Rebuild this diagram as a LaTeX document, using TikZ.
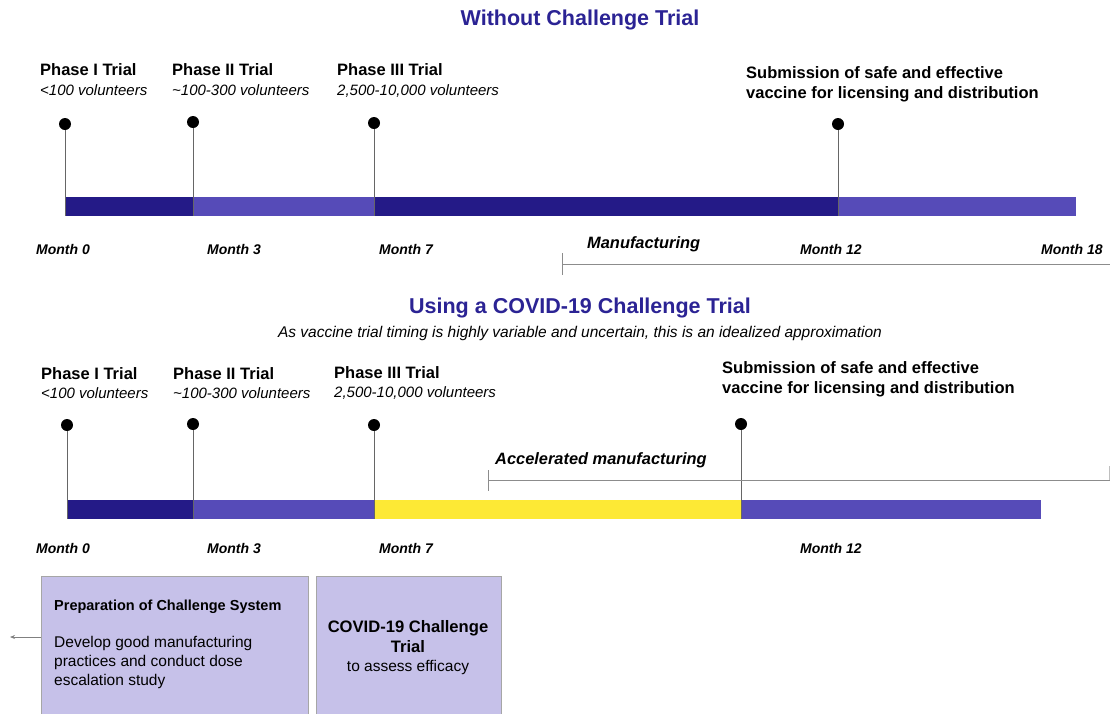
\documentclass[tikz,border=0pt]{standalone}
\usepackage{fontspec}
\setmainfont{Liberation Sans}
\usepackage{tikz}
\usetikzlibrary{positioning,calc,arrows.meta}

\definecolor{navy}{HTML}{241A87}
\definecolor{violet}{HTML}{564BB8}
\definecolor{sun}{HTML}{FDE935}
\definecolor{lilac}{HTML}{C6C1E9}
\definecolor{headblue}{HTML}{2B2394}

\begin{document}
\begin{tikzpicture}[x=1pt,y=-1pt]
  \tikzstyle{pin}=[circle,fill=black,minimum width=10pt,minimum height=12pt,inner sep=0pt]
  \tikzstyle{stem}=[draw=black!60,line width=1pt]
  \tikzstyle{rule}=[draw=black!45,line width=1pt]
  \tikzstyle{head}=[font=\fontsize{21.5}{24}\selectfont\bfseries,text=headblue]
  \tikzstyle{phase}=[anchor=base west,inner sep=0pt,font=\fontsize{16.5}{20.5}\selectfont\bfseries]
  \tikzstyle{crowd}=[anchor=base west,inner sep=0pt,font=\fontsize{15}{17}\selectfont\itshape]
  \tikzstyle{month}=[anchor=base west,inner sep=0pt,font=\fontsize{14}{16}\selectfont\bfseries\itshape]
  \tikzstyle{works}=[anchor=base west,inner sep=0pt,font=\fontsize{16.4}{18}\selectfont\bfseries\itshape]
  \tikzstyle{card}=[draw=black!35,fill=lilac,anchor=north west,inner sep=0pt]
  \useasboundingbox (0,0) rectangle (1110,713);

  % without challenge trial
  \node[head] (top) at (580,20) {Without Challenge Trial};

  \node[phase] (a1) at (40,75) {Phase I Trial};
  \node[crowd] (a1v) at (40,95) {<100 volunteers};
  \node[phase] (a2) at (172,75) {Phase II Trial};
  \node[crowd] (a2v) at (172,95) {\textasciitilde100-300 volunteers};
  \node[phase] (a3) at (337,75) {Phase III Trial};
  \node[crowd] (a3v) at (337,95) {2,500-10,000 volunteers};
  \node[phase,align=left] (a4) at (746,98.5) {Submission of safe and effective\\vaccine for licensing and distribution};

  \node[pin] (ap1) at (65,124) {};
  \node[pin] (ap2) at (193,122) {};
  \node[pin] (ap3) at (374,123) {};
  \node[pin] (ap4) at (838,124) {};

  \fill[navy] (65,197) rectangle (193,216);
  \fill[violet] (193,197) rectangle (374,216);
  \fill[navy] (374,197) rectangle (838,216);
  \fill[violet] (838,197) rectangle (1076,216);

  \coordinate (ab1) at (65,216);
  \coordinate (ab2) at (193,216);
  \coordinate (ab3) at (374,216);
  \coordinate (ab4) at (838,216);
  \draw[stem] (ap1) -- (ab1);
  \draw[stem] (ap2) -- (ab2);
  \draw[stem] (ap3) -- (ab3);
  \draw[stem] (ap4) -- (ab4);

  \node[month] (am0) at (36,254) {Month 0};
  \node[month] (am3) at (207,254) {Month 3};
  \node[month] (am7) at (379,254) {Month 7};
  \node[month] (am12) at (800,254) {Month 12};
  \node[month] (am18) at (1041,254) {Month 18};

  \node[works] (make) at (587,248) {Manufacturing};
  \coordinate (mk0) at (562,264);
  \coordinate (mk1) at (1110,264);
  \draw[rule] (562,253) -- (562,275);
  \draw[rule] (mk0) -- (mk1);

  % using a challenge trial
  \node[head] (low) at (580,308) {Using a COVID-19 Challenge Trial};
  \node[font=\fontsize{15.5}{18}\selectfont\itshape] (note) at (580,333) {As vaccine trial timing is highly variable and uncertain, this is an idealized approximation};

  \node[phase] (b1) at (41,379) {Phase I Trial};
  \node[crowd] (b1v) at (41,398) {<100 volunteers};
  \node[phase] (b2) at (173,379) {Phase II Trial};
  \node[crowd] (b2v) at (173,398) {\textasciitilde100-300 volunteers};
  \node[phase] (b3) at (334,378) {Phase III Trial};
  \node[crowd] (b3v) at (334,397) {2,500-10,000 volunteers};
  \node[phase,align=left,font=\fontsize{16.5}{20}\selectfont\bfseries] (b4) at (722,393) {Submission of safe and effective\\vaccine for licensing and distribution};

  \node[pin] (bp1) at (67,425) {};
  \node[pin] (bp2) at (193,424) {};
  \node[pin] (bp3) at (374,425) {};
  \node[pin] (bp4) at (741,424) {};

  \fill[navy] (67,500) rectangle (193,519);
  \fill[violet] (193,500) rectangle (374,519);
  \fill[sun] (374,500) rectangle (741,519);
  \fill[violet] (741,500) rectangle (1041,519);

  \coordinate (bb1) at (67,519);
  \coordinate (bb2) at (193,519);
  \coordinate (bb3) at (374,519);
  \coordinate (bb4) at (741,519);
  \draw[stem] (bp1) -- (bb1);
  \draw[stem] (bp2) -- (bb2);
  \draw[stem] (bp3) -- (bb3);
  \draw[stem] (bp4) -- (bb4);

  \node[works] (fast) at (495,464) {Accelerated manufacturing};
  \coordinate (fm0) at (488,480);
  \coordinate (fm1) at (1110,480);
  \draw[rule] (488,470) -- (488,491);
  \draw[rule] (fm0) -- (fm1);
  \draw[rule,draw=black!25] (1109.5,466) -- (1109.5,480);

  \node[month] (bm0) at (36,553) {Month 0};
  \node[month] (bm3) at (207,553) {Month 3};
  \node[month] (bm7) at (379,553) {Month 7};
  \node[month] (bm12) at (800,553) {Month 12};

  % boxes
  \node[card,minimum width=267pt,minimum height=142pt] (prep) at (41,576) {};
  \node[card,minimum width=185pt,minimum height=142pt] (trial) at (316,576) {};

  \node[anchor=base west,inner sep=0pt,font=\fontsize{14.5}{16}\selectfont\bfseries] (preptitle) at (54,610) {Preparation of Challenge System};
  \node[anchor=north west,inner sep=0pt,align=left,font=\fontsize{15.5}{19}\selectfont] (preptext) at (54,636) {Develop good manufacturing\\practices and conduct dose\\escalation study};

  \node[align=center,inner sep=0pt,font=\fontsize{16.6}{20}\selectfont\bfseries] (trialtitle) at (408,637) {COVID-19 Challenge\\Trial};
  \node[inner sep=0pt,font=\fontsize{15.5}{17}\selectfont] (trialtext) at (408,667) {to assess efficacy};

  \coordinate (prepout) at (41,637);
  \coordinate (away) at (10,637);
  \draw[draw=black!50,line width=0.8pt,-{Stealth[length=5pt,width=4pt]}] (prepout) -- (away);
\end{tikzpicture}
\end{document}
